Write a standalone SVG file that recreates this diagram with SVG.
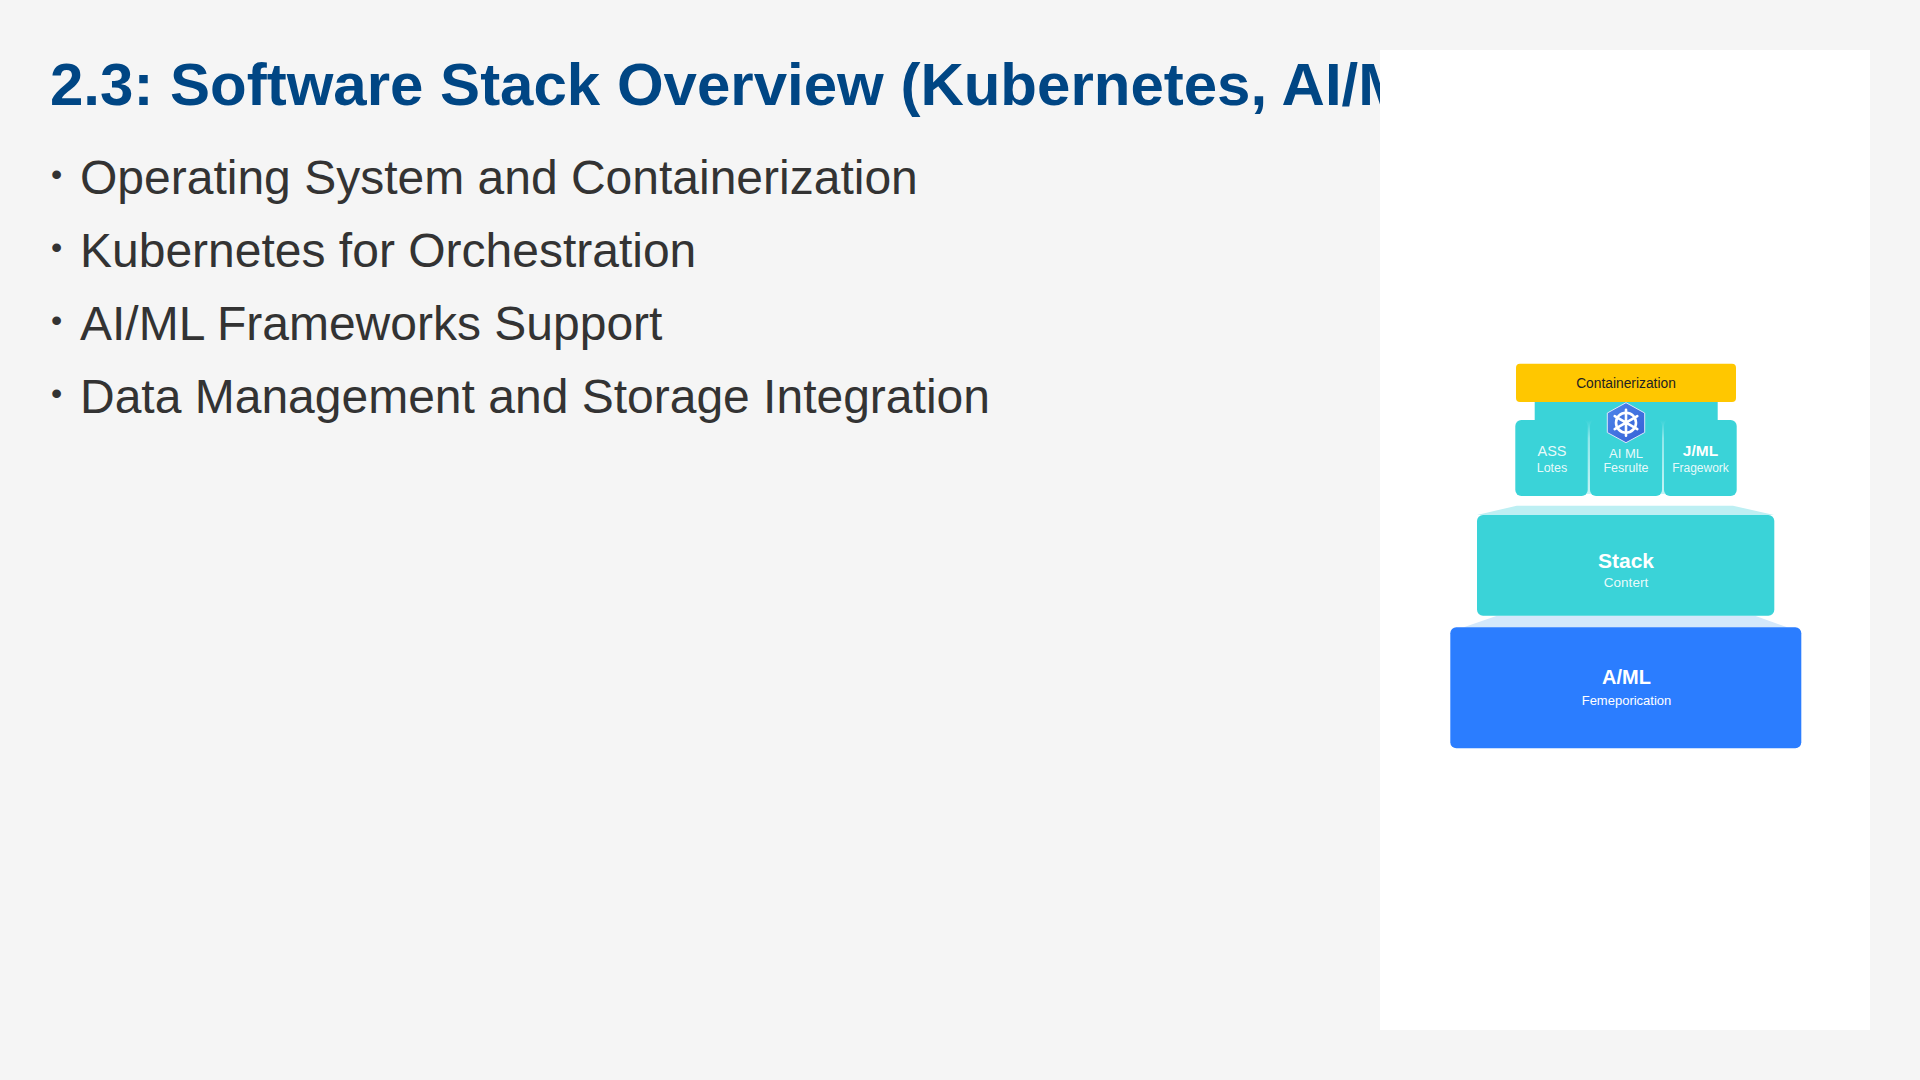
<svg xmlns="http://www.w3.org/2000/svg" width="1920" height="1080" viewBox="0 0 1920 1080">
<defs>
<linearGradient id="hexFill" x1="0" y1="0" x2="1" y2="1"><stop offset="0" stop-color="#4f86ea"/><stop offset="1" stop-color="#3560d6"/></linearGradient>
<linearGradient id="stripFill" x1="0" y1="400" x2="0" y2="496" gradientUnits="userSpaceOnUse"><stop offset="0.21" stop-color="#3ad3d8"/><stop offset="0.4" stop-color="#8fe7ea"/><stop offset="1" stop-color="#c8f4f5"/></linearGradient>
</defs>
<style>
text{font-family:"Liberation Sans",Arial,sans-serif}
.title{font-size:60px;font-weight:700;fill:#004684}
.b{font-size:48px;fill:#333}
.dot{font-size:32px;fill:#333}
.teal{fill:#3ad3d8}
.c{text-anchor:middle;fill:#fff}
.big{font-weight:700}
.spoke{stroke:#fff;stroke-width:2.6;stroke-linecap:round;fill:none}
</style>
<rect width="1920" height="1080" fill="#f5f5f5"/>
<g id="slide-text">
<text class="title" x="50" y="105">2.3: Software Stack Overview (Kubernetes, AI/M</text>
<text class="dot" x="51" y="184.5">•</text><text class="b" x="80" y="194">Operating System and Containerization</text>
<text class="dot" x="51" y="257.5">•</text><text class="b" x="80" y="267">Kubernetes for Orchestration</text>
<text class="dot" x="51" y="330.5">•</text><text class="b" x="80" y="340">AI/ML Frameworks Support</text>
<text class="dot" x="51" y="403.5">•</text><text class="b" x="80" y="413">Data Management and Storage Integration</text>
</g>
<rect id="panel" x="1380" y="50" width="490" height="980" fill="#fff"/>
<g id="base-layer">
<path d="M1497 615.7H1755L1788 627.5H1463Z" fill="#d3e8fb"/>
<rect x="1450.3" y="627.3" width="351" height="121" rx="6" fill="#2b7dff"/>
<text class="c big" x="1626.5" y="684" font-size="20">A/ML</text>
<text class="c" x="1626.5" y="705" font-size="13">Femeporication</text>
</g>
<g id="stack-layer">
<path d="M1516.7 505.7H1733L1774 515H1477Z" fill="#bdeff3"/>
<rect class="teal" x="1477" y="515" width="297.3" height="100.7" rx="6"/>
<text class="c big" x="1626" y="568" font-size="21">Stack</text>
<text class="c" x="1626" y="586.7" font-size="13.5" fill-opacity=".9">Contert</text>
</g>
<g id="back-strip"><rect x="1534.7" y="400" width="183" height="94" fill="url(#stripFill)"/></g>
<g id="node-ass">
<rect class="teal" x="1515.3" y="420" width="72.4" height="76" rx="6"/>
<text class="c" x="1552" y="456" font-size="14.5" fill-opacity=".9">ASS</text>
<text class="c" x="1552" y="472" font-size="12.5" fill-opacity=".9">Lotes</text>
</g>
<g id="node-aiml">
<rect class="teal" x="1590" y="420" width="72" height="76" rx="6"/>
<text class="c" x="1626" y="458" font-size="13" fill-opacity=".9">AI ML</text>
<text class="c" x="1626" y="472" font-size="12.5" fill-opacity=".9">Fesrulte</text>
</g>
<g id="node-jml">
<rect class="teal" x="1664" y="420" width="72.7" height="76" rx="6"/>
<text class="c big" x="1700.5" y="456" font-size="15.5">J/ML</text>
<text class="c" x="1700.5" y="472" font-size="12" fill-opacity=".9">Fragework</text>
</g>
<g id="containerization">
<rect x="1516" y="363.7" width="220" height="38.3" rx="4" fill="#ffc700"/>
<text x="1626" y="388" font-size="13.8" text-anchor="middle" fill="#222">Containerization</text>
</g>
<g id="kubernetes-icon">
<path d="M1626 402.7L1644.7 413V432.5L1626 442.7L1607.3 432.5V413Z" fill="url(#hexFill)" stroke="#dbe6fb" stroke-width="1"/>
<circle class="spoke" cx="1626" cy="422.7" r="10"/>
<path class="spoke" d="M1626 409.7V435.7M1614.7 416.2L1637.3 429.2M1614.7 429.2L1637.3 416.2"/>
</g>
</svg>
